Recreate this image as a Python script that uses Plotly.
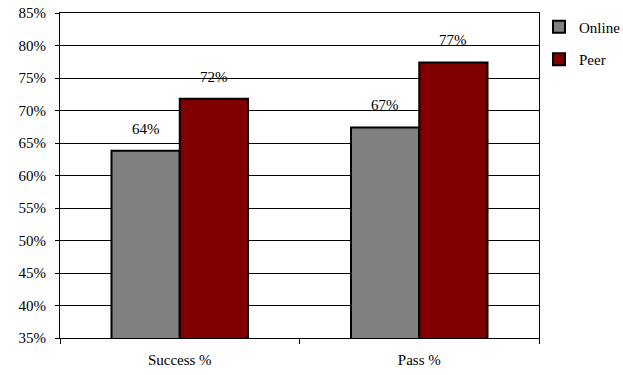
import plotly.graph_objects as go

categories = ["Success %", "Pass %"]
online = [63.8, 67.4]
peer = [71.8, 77.4]
online_labels = ["64%", "67%"]
peer_labels = ["72%", "77%"]
y_ticks = list(range(35, 90, 5))
y_tick_labels = [f"{v}%" for v in y_ticks]

FONT = dict(family="Liberation Serif", size=15, color="black")

fig = go.Figure()
fig.add_trace(go.Bar(name="Online", x=categories, y=online,
                     marker=dict(color="#808080", line=dict(color="black", width=2)),
                     legendgroup="a"))
fig.add_trace(go.Bar(name="Peer", x=categories, y=peer,
                     marker=dict(color="#800000", line=dict(color="black", width=2)),
                     legendgroup="b"))

bar_w = (1 - 0.43) / 2
annotations = []
for i in range(len(categories)):
    for vals, labs, off in ((online, online_labels, -bar_w / 2), (peer, peer_labels, bar_w / 2)):
        annotations.append(dict(x=i + off, y=vals[i], text=labs[i], showarrow=False,
                                yanchor="bottom", yshift=12, font=FONT, xref="x", yref="y"))

fig.update_layout(
    width=623, height=375,
    margin=dict(l=60, r=84, t=13, b=37, autoexpand=False),
    paper_bgcolor="white", plot_bgcolor="white",
    barmode="group", bargap=0.43, bargroupgap=0,
    font=FONT,
    showlegend=True,
    legend=dict(x=1.0, y=1.008, xanchor="left", yanchor="top", font=FONT,
                tracegroupgap=10, itemwidth=30, bgcolor="rgba(0,0,0,0)"),
    annotations=annotations,
)
fig.update_xaxes(showline=True, linecolor="black", linewidth=1, mirror=True,
                 ticks="outside", ticklen=5, tickcolor="black", tickson="boundaries",
                 showgrid=False, tickfont=FONT, ticklabelstandoff=8)
fig.update_yaxes(range=[35, 85], tickvals=y_ticks, ticktext=y_tick_labels,
                 showline=True, linecolor="black", linewidth=1, mirror=True,
                 showgrid=True, gridcolor="black", gridwidth=1,
                 ticks="outside", ticklen=4, tickcolor="black", tickfont=FONT,
                 ticklabelstandoff=6, zeroline=False)

fig.write_html("out.html")
